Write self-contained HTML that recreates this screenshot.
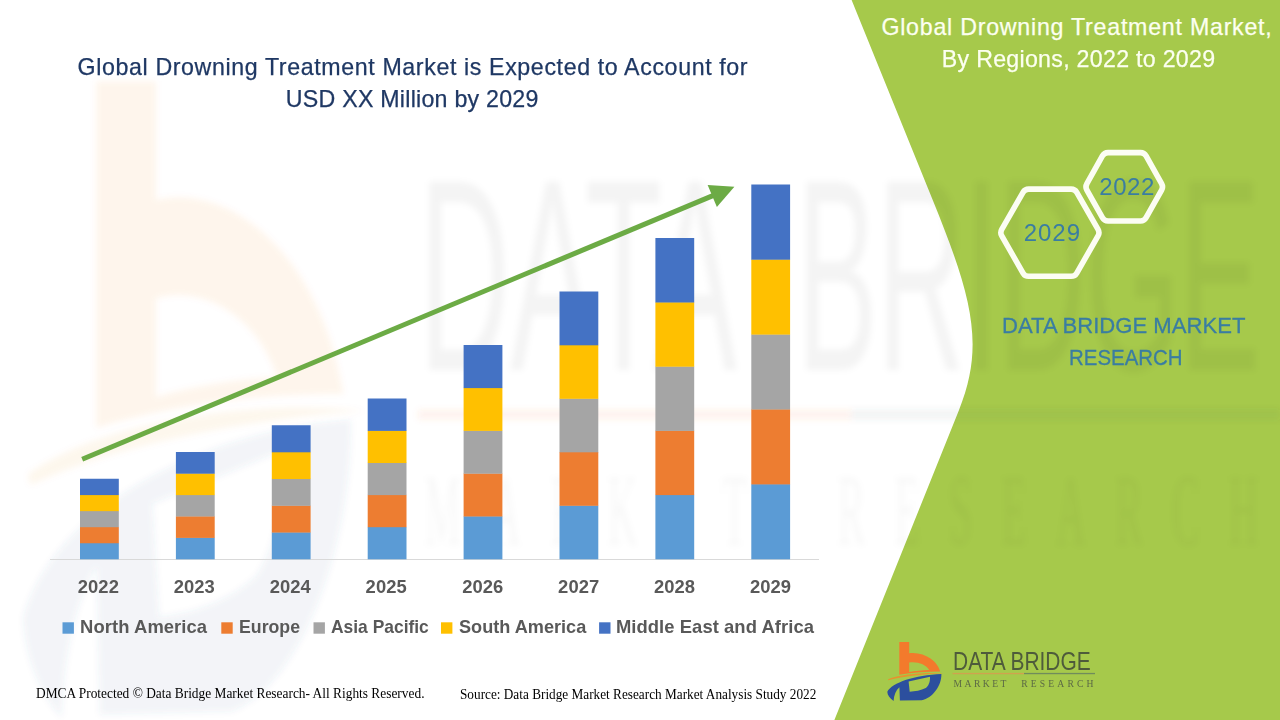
<!DOCTYPE html>
<html><head><meta charset="utf-8"><title>Global Drowning Treatment Market</title>
<style>
html,body{margin:0;padding:0;}
body{width:1280px;height:720px;overflow:hidden;background:#fff;position:relative;font-family:"Liberation Sans",sans-serif;}
.t{position:absolute;white-space:nowrap;margin:0;padding:0;}
svg{position:absolute;left:0;top:0;}
</style></head><body>

<svg width="1280" height="720" viewBox="0 0 1280 720">
<path d="M851.60,0 L932.72,200.00 C971.64,295.97 985.40,344.39 959.02,410.00 L834.40,720 L1280,720 L1280,0 Z" fill="#A6C94B"/>
<defs><filter id="wb" x="-5%" y="-5%" width="110%" height="110%"><feGaussianBlur stdDeviation="3"/></filter></defs>
<g filter="url(#wb)">
<g transform="matrix(6.05,0,0,10.6,-5344.7,-6725)">
<path opacity="0.075" fill="#F37A2C" fill-rule="evenodd" d="M899.3,642.1 L909.2,642.1 L909.2,653.3 C921.5,651.6 936.5,658.5 940.2,671.6 C926,671.6 912,672.6 899.3,674.8 Z M909.2,662.6 C917,661.3 926,664.3 929.2,670 C922,670.2 915,670.9 909.2,671.9 Z"/>
<path opacity="0.07" fill="#E8922E" d="M888,679.2 C900,674.2 925,672.0 944,673.2 C925,673.9 903,676.3 888.4,680.2 Z"/>
<rect opacity="0.09" x="952.5" y="673.1" width="71.5" height="0.9" fill="#F37A2C"/>
<rect opacity="0.07" x="1024" y="673.1" width="71" height="0.9" fill="#44546A"/>
</g>
<g transform="matrix(6.05,0,0,11.1,-5344.7,-7062)">
<path opacity="0.068" fill="#3A5590" fill-rule="evenodd" d="M887.3,691.8 C892,682.5 915,675.2 941.4,674.0 C941.6,686 932.5,698.2 921.7,700.3 L899.9,700.6 L899.4,687.2 C896,690.2 893.9,695.2 893.6,700.9 C889.6,698.4 887.4,695 887.3,691.8 Z M908.6,681.6 L930,676.8 C930.2,682.8 928.3,686 925.8,688.1 C921,690.5 915,691.5 909.7,691.8 Z"/>
</g>
<g transform="translate(0,370) scale(1,2.737)" font-family="'Liberation Sans',sans-serif" font-size="100" fill="#000" opacity="0.042">
<text x="419" y="0" textLength="318" lengthAdjust="spacingAndGlyphs">DATA</text>
<text x="797" y="0" textLength="463" lengthAdjust="spacingAndGlyphs">BRIDGE</text>
</g>
<g transform="translate(0,545) scale(1,2.53)" font-family="'Liberation Serif',serif" font-size="40" fill="#000" opacity="0.03">
<text x="425" y="0" textLength="322" lengthAdjust="spacing">MARKET</text>
<text x="838" y="0" textLength="420" lengthAdjust="spacing">RESEARCH</text>
</g>
</g>

<rect x="50" y="559" width="769" height="1" fill="#D9D9D9"/>
<rect x="80.00" y="542.95" width="38.8" height="16.35" fill="#5B9BD5"/>
<rect x="80.00" y="526.90" width="38.8" height="16.35" fill="#ED7D31"/>
<rect x="80.00" y="510.85" width="38.8" height="16.35" fill="#A5A5A5"/>
<rect x="80.00" y="494.80" width="38.8" height="16.35" fill="#FFC000"/>
<rect x="80.00" y="478.75" width="38.8" height="16.35" fill="#4472C4"/>
<rect x="175.90" y="537.60" width="38.8" height="21.70" fill="#5B9BD5"/>
<rect x="175.90" y="516.20" width="38.8" height="21.70" fill="#ED7D31"/>
<rect x="175.90" y="494.80" width="38.8" height="21.70" fill="#A5A5A5"/>
<rect x="175.90" y="473.40" width="38.8" height="21.70" fill="#FFC000"/>
<rect x="175.90" y="452.00" width="38.8" height="21.70" fill="#4472C4"/>
<rect x="271.80" y="532.25" width="38.8" height="27.05" fill="#5B9BD5"/>
<rect x="271.80" y="505.50" width="38.8" height="27.05" fill="#ED7D31"/>
<rect x="271.80" y="478.75" width="38.8" height="27.05" fill="#A5A5A5"/>
<rect x="271.80" y="452.00" width="38.8" height="27.05" fill="#FFC000"/>
<rect x="271.80" y="425.25" width="38.8" height="27.05" fill="#4472C4"/>
<rect x="367.70" y="526.90" width="38.8" height="32.40" fill="#5B9BD5"/>
<rect x="367.70" y="494.80" width="38.8" height="32.40" fill="#ED7D31"/>
<rect x="367.70" y="462.70" width="38.8" height="32.40" fill="#A5A5A5"/>
<rect x="367.70" y="430.60" width="38.8" height="32.40" fill="#FFC000"/>
<rect x="367.70" y="398.50" width="38.8" height="32.40" fill="#4472C4"/>
<rect x="463.60" y="516.20" width="38.8" height="43.10" fill="#5B9BD5"/>
<rect x="463.60" y="473.40" width="38.8" height="43.10" fill="#ED7D31"/>
<rect x="463.60" y="430.60" width="38.8" height="43.10" fill="#A5A5A5"/>
<rect x="463.60" y="387.80" width="38.8" height="43.10" fill="#FFC000"/>
<rect x="463.60" y="345.00" width="38.8" height="43.10" fill="#4472C4"/>
<rect x="559.50" y="505.50" width="38.8" height="53.80" fill="#5B9BD5"/>
<rect x="559.50" y="452.00" width="38.8" height="53.80" fill="#ED7D31"/>
<rect x="559.50" y="398.50" width="38.8" height="53.80" fill="#A5A5A5"/>
<rect x="559.50" y="345.00" width="38.8" height="53.80" fill="#FFC000"/>
<rect x="559.50" y="291.50" width="38.8" height="53.80" fill="#4472C4"/>
<rect x="655.40" y="494.80" width="38.8" height="64.50" fill="#5B9BD5"/>
<rect x="655.40" y="430.60" width="38.8" height="64.50" fill="#ED7D31"/>
<rect x="655.40" y="366.40" width="38.8" height="64.50" fill="#A5A5A5"/>
<rect x="655.40" y="302.20" width="38.8" height="64.50" fill="#FFC000"/>
<rect x="655.40" y="238.00" width="38.8" height="64.50" fill="#4472C4"/>
<rect x="751.30" y="484.10" width="38.8" height="75.20" fill="#5B9BD5"/>
<rect x="751.30" y="409.20" width="38.8" height="75.20" fill="#ED7D31"/>
<rect x="751.30" y="334.30" width="38.8" height="75.20" fill="#A5A5A5"/>
<rect x="751.30" y="259.40" width="38.8" height="75.20" fill="#FFC000"/>
<rect x="751.30" y="184.50" width="38.8" height="75.20" fill="#4472C4"/>
<line x1="82.2" y1="459.2" x2="714.10" y2="195.18" stroke="#6CAB45" stroke-width="5"/>
<polygon points="734.40,186.70 716.88,207.02 707.63,184.88" fill="#6CAB45"/>
<path d="M1098.03,229.45 Q1099.90,232.70 1098.03,235.95 L1076.77,273.05 Q1074.90,276.30 1071.15,276.30 L1028.65,276.30 Q1024.90,276.30 1023.03,273.05 L1001.77,235.95 Q999.90,232.70 1001.77,229.45 L1023.03,192.35 Q1024.90,189.10 1028.65,189.10 L1071.15,189.10 Q1074.90,189.10 1076.77,192.35 Z" fill="none" stroke="#FCFDF3" stroke-width="5.6" stroke-linejoin="round"/>
<path d="M1161.61,183.53 Q1163.45,186.80 1161.61,190.07 L1146.09,217.73 Q1144.25,221.00 1140.50,221.00 L1108.00,221.00 Q1104.25,221.00 1102.41,217.73 L1086.89,190.07 Q1085.05,186.80 1086.89,183.53 L1102.41,155.87 Q1104.25,152.60 1108.00,152.60 L1140.50,152.60 Q1144.25,152.60 1146.09,155.87 Z" fill="none" stroke="#FCFDF3" stroke-width="5.6" stroke-linejoin="round"/>
<rect x="62.5" y="622.3" width="11.4" height="11.4" fill="#5B9BD5"/>
<rect x="221.3" y="622.3" width="11.4" height="11.4" fill="#ED7D31"/>
<rect x="313.5" y="622.3" width="11.4" height="11.4" fill="#A5A5A5"/>
<rect x="441.0" y="622.3" width="11.4" height="11.4" fill="#FFC000"/>
<rect x="599.1" y="622.3" width="11.4" height="11.4" fill="#4472C4"/>
<g id="logo">
<path fill="#F37A2C" fill-rule="evenodd" d="M899.3,642.1 L909.2,642.1 L909.2,653.3 C921.5,651.6 936.5,658.5 940.2,671.6 C926,671.6 912,672.6 899.3,674.8 Z M909.2,662.6 C917,661.3 926,664.3 929.2,670 C922,670.2 915,670.9 909.2,671.9 Z"/>
<path fill="#E8922E" d="M888,679.2 C900,674.2 925,672.0 944,673.2 C925,673.9 903,676.3 888.4,680.2 Z"/>
<path fill="#2C4F9E" fill-rule="evenodd" d="M887.3,691.8 C892,682.5 915,675.2 941.4,674.0 C941.6,686 932.5,698.2 921.7,700.3 L899.9,700.6 L899.4,687.2 C896,690.2 893.9,695.2 893.6,700.9 C889.6,698.4 887.4,695 887.3,691.8 Z M908.6,681.6 L930,676.8 C930.2,682.8 928.3,686 925.8,688.1 C921,690.5 915,691.5 909.7,691.8 Z"/>
<rect x="952.5" y="672.9" width="71.5" height="1.3" fill="#D0A24E"/>
<rect x="1024" y="672.9" width="71" height="1.3" fill="#708C5C"/>
</g>

</svg>
<div class="t" style="left:77.60px;top:55.56px;font-family:'Liberation Sans',sans-serif;font-size:23.2px;line-height:23.2px;font-weight:400;color:#1F3864;letter-spacing:0.619px;-webkit-text-stroke:0.25px currentColor;">Global Drowning Treatment Market is Expected to Account for</div>
<div class="t" style="left:285.80px;top:87.96px;font-family:'Liberation Sans',sans-serif;font-size:23.2px;line-height:23.2px;font-weight:400;color:#1F3864;letter-spacing:0.245px;-webkit-text-stroke:0.25px currentColor;">USD XX Million by 2029</div>
<div class="t" style="left:881.40px;top:16.26px;font-family:'Liberation Sans',sans-serif;font-size:23.2px;line-height:23.2px;font-weight:400;color:#FCFFF0;letter-spacing:0.762px;-webkit-text-stroke:0.25px currentColor;">Global Drowning Treatment Market,</div>
<div class="t" style="left:941.80px;top:47.76px;font-family:'Liberation Sans',sans-serif;font-size:23.2px;line-height:23.2px;font-weight:400;color:#FCFFF0;letter-spacing:0.280px;-webkit-text-stroke:0.25px currentColor;">By Regions, 2022 to 2029</div>
<div class="t" style="left:1023.80px;top:220.88px;font-family:'Liberation Sans',sans-serif;font-size:24px;line-height:24px;font-weight:400;color:#3A7DA2;letter-spacing:0.936px;">2029</div>
<div class="t" style="left:1099.20px;top:175.08px;font-family:'Liberation Sans',sans-serif;font-size:24px;line-height:24px;font-weight:400;color:#3A7DA2;letter-spacing:0.603px;">2022</div>
<div class="t" style="left:1001.60px;top:314.30px;font-family:'Liberation Sans',sans-serif;font-size:22.8px;line-height:22.8px;font-weight:400;color:#3A7DA2;transform-origin:0 0;transform:scaleX(0.9688);-webkit-text-stroke:0.3px currentColor;">DATA BRIDGE MARKET</div>
<div class="t" style="left:1069.00px;top:346.30px;font-family:'Liberation Sans',sans-serif;font-size:22.8px;line-height:22.8px;font-weight:400;color:#3A7DA2;transform-origin:0 0;transform:scaleX(0.8967);-webkit-text-stroke:0.3px currentColor;">RESEARCH</div>
<div class="t" style="left:77.80px;top:577.52px;font-family:'Liberation Sans',sans-serif;font-size:18.4px;line-height:18.4px;font-weight:700;color:#595959;letter-spacing:0.059px;">2022</div>
<div class="t" style="left:173.75px;top:577.52px;font-family:'Liberation Sans',sans-serif;font-size:18.4px;line-height:18.4px;font-weight:700;color:#595959;letter-spacing:0.059px;">2023</div>
<div class="t" style="left:269.70px;top:577.52px;font-family:'Liberation Sans',sans-serif;font-size:18.4px;line-height:18.4px;font-weight:700;color:#595959;letter-spacing:0.059px;">2024</div>
<div class="t" style="left:365.60px;top:577.52px;font-family:'Liberation Sans',sans-serif;font-size:18.4px;line-height:18.4px;font-weight:700;color:#595959;letter-spacing:0.059px;">2025</div>
<div class="t" style="left:462.20px;top:577.52px;font-family:'Liberation Sans',sans-serif;font-size:18.4px;line-height:18.4px;font-weight:700;color:#595959;letter-spacing:0.059px;">2026</div>
<div class="t" style="left:558.10px;top:577.52px;font-family:'Liberation Sans',sans-serif;font-size:18.4px;line-height:18.4px;font-weight:700;color:#595959;letter-spacing:0.059px;">2027</div>
<div class="t" style="left:654.00px;top:577.52px;font-family:'Liberation Sans',sans-serif;font-size:18.4px;line-height:18.4px;font-weight:700;color:#595959;letter-spacing:0.059px;">2028</div>
<div class="t" style="left:750.00px;top:577.52px;font-family:'Liberation Sans',sans-serif;font-size:18.4px;line-height:18.4px;font-weight:700;color:#595959;letter-spacing:0.059px;">2029</div>
<div class="t" style="left:80.10px;top:618.17px;font-family:'Liberation Sans',sans-serif;font-size:18.4px;line-height:18.4px;font-weight:700;color:#595959;letter-spacing:0.079px;">North America</div>
<div class="t" style="left:239.00px;top:618.17px;font-family:'Liberation Sans',sans-serif;font-size:18.4px;line-height:18.4px;font-weight:700;color:#595959;transform-origin:0 0;transform:scaleX(0.9628);">Europe</div>
<div class="t" style="left:330.60px;top:618.17px;font-family:'Liberation Sans',sans-serif;font-size:18.4px;line-height:18.4px;font-weight:700;color:#595959;transform-origin:0 0;transform:scaleX(0.9472);">Asia Pacific</div>
<div class="t" style="left:458.75px;top:618.17px;font-family:'Liberation Sans',sans-serif;font-size:18.4px;line-height:18.4px;font-weight:700;color:#595959;transform-origin:0 0;transform:scaleX(0.9856);">South America</div>
<div class="t" style="left:615.90px;top:618.17px;font-family:'Liberation Sans',sans-serif;font-size:18.4px;line-height:18.4px;font-weight:700;color:#595959;letter-spacing:0.073px;">Middle East and Africa</div>
<div class="t" style="left:35.70px;top:687.21px;font-family:'Liberation Serif',serif;font-size:13.6px;line-height:13.6px;font-weight:400;color:#000;transform-origin:0 0;transform:scaleX(0.9844);">DMCA Protected © Data Bridge Market Research- All Rights Reserved.</div>
<div class="t" style="left:460.30px;top:687.91px;font-family:'Liberation Serif',serif;font-size:13.6px;line-height:13.6px;font-weight:400;color:#000;transform-origin:0 0;transform:scaleX(0.9750);">Source: Data Bridge Market Research Market Analysis Study 2022</div>
<div class="t" style="left:952.6px;top:649.0px;font-family:'Liberation Sans',sans-serif;font-size:25.8px;line-height:25.8px;color:#4E5B3B;transform-origin:0 0;transform:scaleX(0.812);">DATA BRIDGE</div>
<div class="t" style="left:953.6px;top:678.5px;font-family:'Liberation Serif',serif;font-size:9.6px;line-height:9.6px;color:#5C6A45;letter-spacing:2.45px;">MARKET</div>
<div class="t" style="left:1021.2px;top:678.5px;font-family:'Liberation Serif',serif;font-size:9.6px;line-height:9.6px;color:#5C6A45;letter-spacing:3.17px;">RESEARCH</div>
</body></html>
